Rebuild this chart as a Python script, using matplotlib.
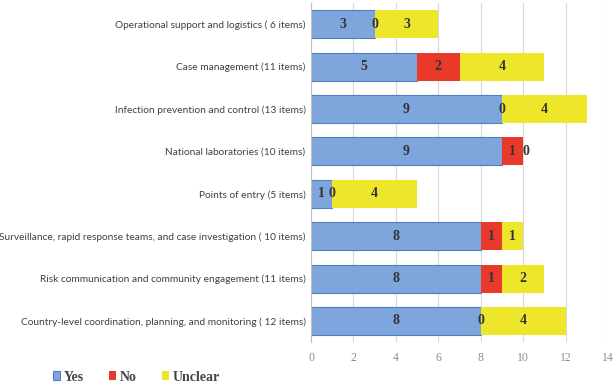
import matplotlib
matplotlib.use("Agg")
import matplotlib.pyplot as plt
import numpy as np

categories = [
    "Operational support and logistics ( 6 items)",
    "Case management (11 items)",
    "Infection prevention and control (13 items)",
    "National laboratories (10 items)",
    "Points of entry (5 items)",
    "Surveillance, rapid response teams, and case investigation ( 10 items)",
    "Risk communication and community engagement (11 items)",
    "Country-level coordination, planning, and monitoring ( 12 items)",
]
yes = [3, 5, 9, 9, 1, 8, 8, 8]
no = [0, 2, 0, 1, 0, 1, 1, 0]
unclear = [3, 4, 4, 0, 4, 1, 2, 4]
xticks = [0, 2, 4, 6, 8, 10, 12, 14]

c_yes, c_no, c_unc = "#7EA6DC", "#E8392A", "#EEE62A"

fig = plt.figure(figsize=(6.16, 3.84), dpi=100)
ax = fig.add_axes([0.505, 0.109, 0.482, 0.883])

y = np.arange(len(categories))[::-1]
h = 0.66
yes_a, no_a, unc_a = np.array(yes), np.array(no), np.array(unclear)
b1 = ax.barh(y, yes_a, height=h, color=c_yes, edgecolor="#4F7FBF", linewidth=0.8, label="Yes", zorder=2)
b2 = ax.barh(y, no_a, left=yes_a, height=h, color=c_no, linewidth=0, label="No", zorder=2)
b3 = ax.barh(y, unc_a, left=yes_a + no_a, height=h, color=c_unc, linewidth=0, label="Unclear", zorder=2)

tfont = dict(family="Liberation Serif", fontsize=10, fontweight="bold", color="#333333", ha="center", va="center", zorder=3)
for i in range(len(categories)):
    ax.text(yes[i] / 2, y[i], str(yes[i]), **tfont)
    ax.text(yes[i] + no[i] / 2, y[i], str(no[i]), **tfont)
    xu = yes[i] + no[i] + unclear[i] / 2
    if unclear[i] == 0:
        xu += 0.15
    ax.text(xu, y[i], str(unclear[i]), **tfont)

ax.set_xlim(0, 14)
ax.set_ylim(-0.5, len(categories) - 0.5)
ax.set_xticks(xticks)
ax.set_xticklabels([str(t) for t in xticks], family="Liberation Serif", fontsize=8.5, color="#8C8C8C")
ax.set_yticks(y)
ax.set_yticklabels(categories, family="Lato", fontsize=7.25, color="#404040")
ax.tick_params(axis="y", length=0, pad=4)
ax.tick_params(axis="x", length=0, pad=7)
ax.grid(axis="x", color="#D9D9D9", linewidth=0.8, zorder=0)
for s in ["top", "right", "bottom"]:
    ax.spines[s].set_visible(False)
ax.spines["left"].set_color("#BFBFBF")

fig.legend(handles=[b1, b2, b3], labels=["Yes", "No", "Unclear"], loc="center left",
           bbox_to_anchor=(0.065, 0.018), ncol=3, frameon=False,
           prop=dict(family="Liberation Serif", size=10, weight="bold"),
           handlelength=0.55, handleheight=0.55, columnspacing=1.8, handletextpad=0.25,
           labelcolor="#444444")

fig.savefig("out.png", dpi=100)
